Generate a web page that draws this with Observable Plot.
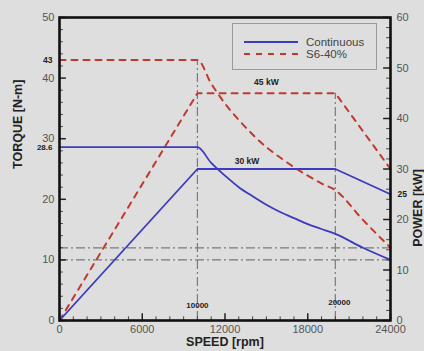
<!DOCTYPE html>
<html>
<head>
<meta charset="utf-8">
<script src="https://cdn.jsdelivr.net/npm/d3@7"></script>
<script src="https://cdn.jsdelivr.net/npm/@observablehq/plot@0.6"></script>
<style>
  html, body { margin: 0; padding: 0; background: #dedede; }
  #wrap { position: relative; width: 424px; height: 351px; background: #dedede; overflow: hidden; font-family: "Liberation Sans", Arial, sans-serif; }
  #legend { position: absolute; left: 232px; top: 23px; width: 145px; height: 47px; border: 1px solid #9a9a9a; box-sizing: border-box; background: #dedede; }
  #legend .row { position: absolute; left: 11px; height: 12px; display: flex; align-items: center; font-size: 11.5px; color: #444; }
  #legend svg { margin-right: 8px; }
</style>
</head>
<body>
<div id="wrap"><div id="legend"></div></div>
<script>
// ---- data ----
const speedRpm      = [0, 10000, 11000, 12000, 13000, 14000, 15000, 16000, 17000, 18000, 19000, 20000, 22000, 24000];
const contTorqueNm  = [28.6, 28.6, 26.0, 23.9, 22.0, 20.5, 19.1, 17.9, 16.9, 15.9, 15.1, 14.3, 12.0, 10.0];
const s6TorqueNm    = [43, 43, 39.1, 35.8, 33.1, 30.7, 28.6, 26.9, 25.3, 23.9, 22.6, 21.5, 16.6, 12.0];
const powerSpeedRpm = [0, 10000, 20000, 24000];
const contPowerKw   = [0, 30, 30, 25];
const s6PowerKw     = [0, 45, 45, 30];
const refSpeeds     = [10000, 20000];
const refTorques    = [10, 12];
const xTicks        = [0, 6000, 12000, 18000, 24000];
const torqueTicks   = [0, 10, 20, 30, 40, 50];
const powerTicks    = [0, 10, 20, 30, 40, 50, 60];
const seriesNames   = ["Continuous", "S6-40%"];

const BLUE = "#3b3bbd", RED = "#c0392f", GREY = "#7a7a7a";
const k = 50 / 60; // power (0-60 kW) shares the torque axis (0-50 N-m)

const contT = speedRpm.map((s, i) => ({s, v: contTorqueNm[i]}));
const s6T   = speedRpm.map((s, i) => ({s, v: s6TorqueNm[i]}));
const contP = powerSpeedRpm.map((s, i) => ({s, v: contPowerKw[i] * k}));
const s6P   = powerSpeedRpm.map((s, i) => ({s, v: s6PowerKw[i] * k}));

const minorX = d3.range(0, 24001, 1000).filter(d => !xTicks.includes(d));
const minorT = d3.range(0, 50.1, 2).filter(d => !torqueTicks.includes(d));
const minorP = d3.range(0, 60.1, 2).filter(d => !powerTicks.includes(d));

const vTops = [s6TorqueNm[1], s6PowerKw[2] * k];
const dashDot = "9,3,2,3";
const bold = {fontWeight: "bold", fill: "#222"};

const chart = Plot.plot({
  width: 424, height: 351,
  marginLeft: 59, marginRight: 34, marginTop: 17, marginBottom: 31,
  style: {background: "transparent", fontFamily: "'Liberation Sans', Arial, sans-serif"},
  x: {domain: [0, 24000]},
  y: {domain: [0, 50]},
  marks: [
    // reference dash-dot lines
    Plot.ruleX(refSpeeds, {x: d => d, y1: 0, y2: (d, i) => vTops[i], stroke: GREY, strokeWidth: 1.2, strokeDasharray: dashDot}),
    Plot.ruleY(refTorques, {y: d => d, x1: 0, x2: 24000, stroke: GREY, strokeWidth: 1.2, strokeDasharray: dashDot}),
    // curves
    Plot.line(s6T, {x: "s", y: "v", stroke: RED, strokeWidth: 2, strokeDasharray: "6,6", curve: "monotone-x"}),
    Plot.line(s6P, {x: "s", y: "v", stroke: RED, strokeWidth: 2, strokeDasharray: "6,6"}),
    Plot.line(contT, {x: "s", y: "v", stroke: BLUE, strokeWidth: 1.8, curve: "monotone-x"}),
    Plot.line(contP, {x: "s", y: "v", stroke: BLUE, strokeWidth: 1.8}),
    // inward ticks
    Plot.ruleX(xTicks, {x: d => d, y1: 0, y2: 1.1, stroke: "#222", strokeWidth: 1.5}),
    Plot.ruleX(minorX, {x: d => d, y1: 0, y2: 0.6, stroke: "#444", strokeWidth: 1}),
    Plot.ruleY(torqueTicks, {y: d => d, x1: 0, x2: 500, stroke: "#222", strokeWidth: 1.5}),
    Plot.ruleY(minorT, {y: d => d, x1: 0, x2: 280, stroke: "#444", strokeWidth: 1}),
    Plot.ruleY(powerTicks, {y: d => d * k, x1: 24000, x2: 23500, stroke: "#222", strokeWidth: 1.5}),
    Plot.ruleY(minorP, {y: d => d * k, x1: 24000, x2: 23720, stroke: "#444", strokeWidth: 1}),
    // axes (labels only)
    Plot.axisX({ticks: xTicks, tickSize: 0, tickPadding: 5, fontSize: 11, fill: "#555", label: null, tickFormat: d => String(d)}),
    Plot.axisY({ticks: torqueTicks, tickSize: 0, tickPadding: 5, fontSize: 11, fill: "#555", label: null}),
    Plot.axisY({anchor: "right", ticks: powerTicks.map(d => d * k), tickSize: 0, tickPadding: 6, fontSize: 11, fill: "#555", label: null, tickFormat: d => String(Math.round(d / k))}),
    // axis titles
    Plot.text(["TORQUE [N-m]"], {frameAnchor: "left", text: d => d, rotate: -90, dx: -42, fontSize: 12.5, ...bold}),
    Plot.text(["POWER [kW]"], {frameAnchor: "right", text: d => d, rotate: -90, dx: 27, fontSize: 12.5, ...bold}),
    Plot.text(["SPEED [rpm]"], {frameAnchor: "bottom", text: d => d, dy: 25, fontSize: 12.5, ...bold}),
    // annotations
    Plot.text([s6TorqueNm[0]], {x: 0, y: d => d, text: d => String(d), dx: -7, textAnchor: "end", fontSize: 8.5, ...bold}),
    Plot.text([contTorqueNm[0]], {x: 0, y: d => d, text: d => String(d), dx: -7, textAnchor: "end", fontSize: 8, ...bold}),
    Plot.text([contPowerKw[3]], {x: 24000, y: d => d * k, text: d => String(d), dx: 7, textAnchor: "start", fontSize: 8.5, ...bold}),
    Plot.text([s6PowerKw[1]], {x: (powerSpeedRpm[1] + powerSpeedRpm[2]) / 2, y: d => d * k, text: d => d + " kW", dy: -11, fontSize: 8.5, ...bold}),
    Plot.text([contPowerKw[1]], {x: 13600, y: d => d * k, text: d => d + " kW", dy: -8, fontSize: 8.5, ...bold}),
    Plot.text([refSpeeds[0]], {x: d => d, y: 0, text: d => String(d), dy: -15, fontSize: 8, ...bold}),
    Plot.text([refSpeeds[1]], {x: d => d, y: 0, text: d => String(d), dy: -18, dx: 4, fontSize: 8, ...bold}),
    Plot.frame({stroke: "#111", strokeWidth: 2.6})
  ]
});
document.getElementById("wrap").prepend(chart);

// legend
const legend = document.getElementById("legend");
[[BLUE, null, 12], [RED, "6,6", 24]].forEach(([c, dash, top], i) => {
  const row = document.createElement("div");
  row.className = "row";
  row.style.top = top + "px";
  row.innerHTML = `<svg width="54" height="4"><line x1="0" y1="2" x2="54" y2="2" stroke="${c}" stroke-width="2" ${dash ? `stroke-dasharray="${dash}"` : ""}/></svg><span>${seriesNames[i]}</span>`;
  legend.appendChild(row);
});
</script>
</body>
</html>
